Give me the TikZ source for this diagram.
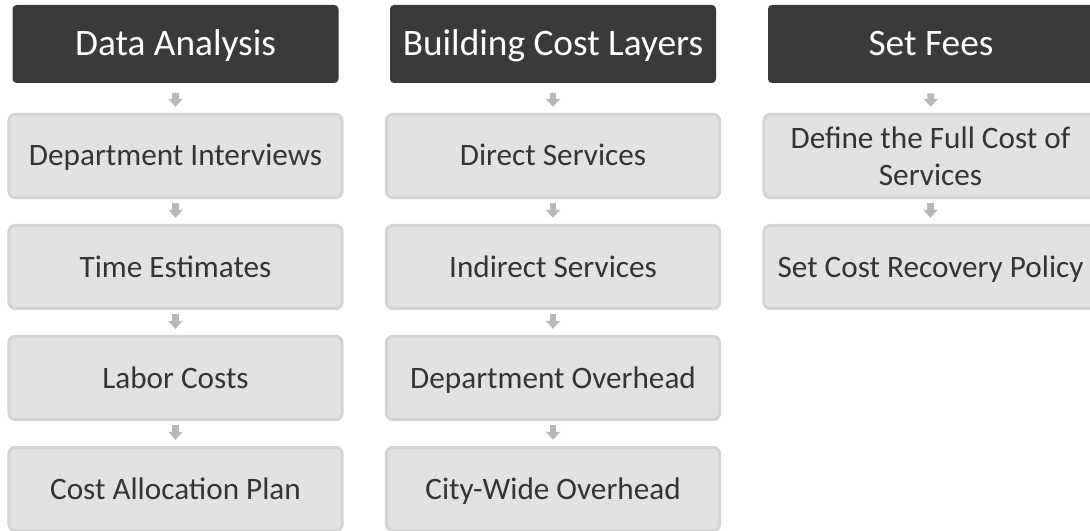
\documentclass[tikz,border=0pt]{standalone}
\usepackage{fontspec}
\setmainfont{Carlito}
\usepackage{xcolor}
\usetikzlibrary{arrows.meta}
\definecolor{hdfill}{RGB}{58,58,58}
\definecolor{boxfill}{RGB}{226,226,226}
\definecolor{boxline}{RGB}{212,212,212}
\definecolor{boxtext}{RGB}{52,52,52}
\definecolor{arrgray}{RGB}{184,184,184}
\begin{document}
\begin{tikzpicture}[x=0.75pt,y=0.75pt,yscale=-1,xscale=1,
  header/.style={fill=hdfill,rounded corners=3pt,minimum width=244.5pt,minimum height=58.5pt,text=white,font=\fontsize{28}{33}\selectfont,inner sep=0pt,text height=18pt,text depth=0pt},
  stepbox/.style={fill=boxfill,draw=boxline,line width=2.25pt,rounded corners=5pt,minimum width=250pt,minimum height=62.5pt,text=boxtext,font=\fontsize{23.4}{27.5}\selectfont,align=center,inner sep=0pt,text height=15pt,text depth=0pt},
  flow/.style={draw=arrgray,line width=5pt,-{Triangle[length=6pt,width=10.5pt]},shorten >=4.5pt,shorten <=3pt}]
\useasboundingbox (0,0) rectangle (1090,531);

%Shape: Header [id:hdA]
\node[header] (hdA) at (175.5,44) {Data Analysis};
%Shape: Header [id:hdB]
\node[header] (hdB) at (553,44) {Building Cost Layers};
%Shape: Header [id:hdC]
\node[header] (hdC) at (931,44) {Set Fees};

% Text Node
\node[stepbox] (a1) at (175.5,156) {Department Interviews};
% Text Node
\node[stepbox] (a2) at (175.5,267) {Time Estimates};
% Text Node
\node[stepbox] (a3) at (175.5,378) {Labor Costs};
% Text Node
\node[stepbox] (a4) at (175.5,489) {Cost Allocation Plan};

% Text Node
\node[stepbox] (b1) at (553,156) {Direct Services};
% Text Node
\node[stepbox] (b2) at (553,267) {Indirect Services};
% Text Node
\node[stepbox] (b3) at (553,378) {Department Overhead};
% Text Node
\node[stepbox] (b4) at (553,489) {City-Wide Overhead};

% Text Node
\node[stepbox,text height=,text depth=] (c1) at (930.5,156) {Define the Full Cost of\\Services};
% Text Node
\node[stepbox] (c2) at (930.5,267) {Set Cost Recovery Policy};

%Straight Lines
\draw[flow,shorten <=7.5pt] (hdA) -- (a1);
\draw[flow,shorten <=7.5pt] (hdB) -- (b1);
\draw[flow,shorten <=7.5pt] (hdC) -- (c1);
\draw[flow] (a1) -- (a2);
\draw[flow] (a2) -- (a3);
\draw[flow] (a3) -- (a4);
\draw[flow] (b1) -- (b2);
\draw[flow] (b2) -- (b3);
\draw[flow] (b3) -- (b4);
\draw[flow] (c1) -- (c2);

\end{tikzpicture}
\end{document}
